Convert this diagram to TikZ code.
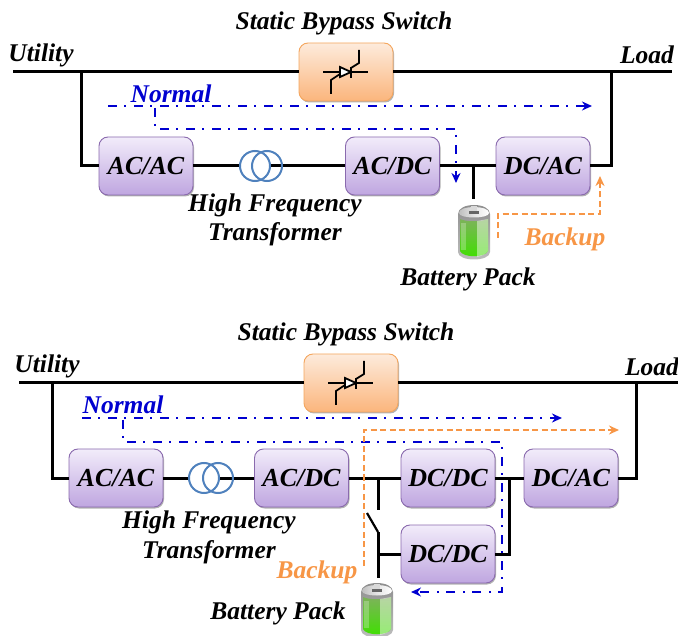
\documentclass[tikz,border=0pt]{standalone}
\usepackage{fontspec}
\setmainfont{Liberation Serif}
\usetikzlibrary{shadows,arrows.meta,positioning}
\definecolor{nblue}{HTML}{0000D0}
\definecolor{borange}{HTML}{F79646}
\definecolor{boxedge}{HTML}{8A6AAE}
\definecolor{boxtop}{HTML}{F2ECFA}
\definecolor{boxbot}{HTML}{BFA6E0}
\definecolor{swedge}{HTML}{F4A65E}
\definecolor{swtop}{HTML}{FDEBDC}
\definecolor{swbot}{HTML}{FBB57C}
\definecolor{coilc}{HTML}{4F81BD}
\definecolor{greentop}{HTML}{7DB35A}
\definecolor{greenbot}{HTML}{3FE000}
\tikzset{
  conv/.style={rounded corners=9pt,minimum width=94pt,minimum height=58pt,inner sep=0pt,draw=boxedge,line width=.9pt,
    top color=boxtop,bottom color=boxbot,drop shadow={shadow xshift=1pt,shadow yshift=-1.5pt,opacity=.3,fill=black},
    font=\fontsize{26}{26}\selectfont\bfseries\itshape},
  swbox/.style={rounded corners=9pt,minimum width=94pt,minimum height=58pt,inner sep=0pt,draw=swedge,line width=.9pt,
    top color=swtop,bottom color=swbot,drop shadow={shadow xshift=1pt,shadow yshift=-1.5pt,opacity=.3,fill=black}},
  wire/.style={line width=3pt,line join=miter},
  coil/.style={draw=coilc,line width=2pt,circle,minimum size=30pt,inner sep=0pt},
  lbl/.style={font=\fontsize{25.5}{25.5}\selectfont\bfseries\itshape,inner sep=0pt,yshift=-1.5pt},
  nlbl/.style={lbl,text=nblue},
  blbl/.style={lbl,text=borange},
  npath/.style={draw=nblue,line width=2.5pt,dash pattern=on 9pt off 7pt on 2pt off 8pt,-{Stealth[length=10pt,width=9pt]}},
  bpath/.style={draw=borange,line width=2.5pt,dash pattern=on 6pt off 3.5pt,-{Stealth[length=10pt,width=9pt]}},
  batslot/.style={minimum width=33pt,minimum height=56pt,inner sep=0pt},
  thyristor/.pic={
    \draw[line width=1.8pt] (-23,0) -- (22,0);
    \draw[line width=1.8pt,fill=white] (-6,-5) -- (5,0) -- (-6,5) -- cycle;
    \draw[line width=1.8pt] (5,-5) -- (5,6);
    \draw[line width=1.8pt] (5,-4) -- (13,-9) -- (13,-22);
    \draw[line width=1.8pt] (-6,2) -- (-15,8) -- (-15,22);
  },
  battery/.pic={
    \shade[top color=black!45,bottom color=black!25] (-16,-18) .. controls (-16,-30) and (16,-30) .. (16,-18) -- (16,20) .. controls (16,30) and (-16,30) .. (-16,20) -- cycle;
    \shade[left color=black!25,right color=white,middle color=black!10] (-15,-19) .. controls (-15,-27) and (15,-27) .. (15,-19) .. controls (15,-13) and (-15,-13) .. (-15,-19) -- cycle;
    \fill[black!60] (-5,-21) rectangle (5,-18);
    \fill[black!15] (-3,-26) rectangle (3,-21);
    \shade[top color=greentop,bottom color=greenbot] (-14,-13) .. controls (-8,-10) and (8,-10) .. (14,-13) -- (14,19) .. controls (11,26) and (-11,26) .. (-14,19) -- cycle;
    \fill[white,opacity=.45] (3,-11) -- (14,-13) -- (14,19) .. controls (12,22) and (8,24) .. (3,25) -- cycle;
    \fill[white,opacity=.25] (-13,-9) rectangle (-8,18);
  }
}
\begin{document}
\begin{tikzpicture}[x=1pt,y=-1pt]
\useasboundingbox (0,0) rectangle (678,636);
% ---------- top diagram
\coordinate (tl) at (13,72);
\coordinate (tr) at (672,72);
\coordinate (tla) at (81.5,72);
\coordinate (trb) at (611,72);
\node[swbox] (ts) at (346,72) {};
\pic at (346,72) {thyristor};
\node[conv] (t1) at (146,166) {AC/AC};
\node[conv] (t2) at (392.5,166) {AC/DC};
\node[conv] (t3) at (543,166) {DC/AC};
\coordinate (tcl) at (255,166);
\coordinate (tcr) at (267,166);
\coordinate (tj) at (473,166);
\node[batslot] (tb) at (474,232) {};
\coordinate (tjb) at (473,199);
\coordinate (tla2) at (81.5,166);
\coordinate (trb2) at (611,166);
\draw[wire] (tl) -- (ts) (ts) -- (tr);
\draw[wire] (tla) -- (tla2) -- (t1);
\draw[wire] (trb) -- (trb2) -- (t3);
\draw[wire] (t1) -- (tcl) (tcr) -- (t2) (t2) -- (t3);
\draw[wire] (tj) -- (tjb);
\node[coil,fill=white] at (tcl) {};
\node[coil] at (tcr) {};
\pic at (tb) {battery};
\node[lbl] (tu) at (41,54) {Utility};
\node[lbl] (tlo) at (647,53) {Load};
\node[lbl] (tst) at (344,22) {Static Bypass Switch};
\node[lbl] (thf) at (275,204) {High Frequency};
\node[lbl] (ttr) at (275,233) {Transformer};
\node[lbl] (tbp) at (468,278) {Battery Pack};
\node[nlbl] (tn) at (171,92) {Normal};
\node[blbl] (tbk) at (565,238) {Backup};
\coordinate (tn1) at (108,106); \coordinate (tn2) at (592,106);
\coordinate (tn3) at (155,108); \coordinate (tn4) at (155,129);
\coordinate (tn5) at (456,129); \coordinate (tn6) at (456,183);
\draw[npath] (tn1) -- (tn2);
\draw[npath] (tn3) -- (tn4) -- (tn5) -- (tn6);
\coordinate (tb1) at (498,238); \coordinate (tb2) at (498,214);
\coordinate (tb3) at (600,214); \coordinate (tb4) at (600,176);
\draw[bpath] (tb1) -- (tb2) -- (tb3) -- (tb4);
% ---------- bottom diagram
\coordinate (bl) at (19,383);
\coordinate (br) at (678,383);
\coordinate (bla) at (52,383);
\coordinate (brb) at (636,383);
\node[swbox] (bs) at (351,383) {};
\pic at (351,383) {thyristor};
\node[conv] (b1) at (116,478) {AC/AC};
\node[conv] (b2) at (301.5,478) {AC/DC};
\node[conv] (b3) at (448,478) {DC/DC};
\node[conv] (b4) at (448,554) {DC/DC};
\node[conv] (b5) at (571,478) {DC/AC};
\coordinate (bcl) at (204,478);
\coordinate (bcr) at (218,478);
\coordinate (bla2) at (52,478);
\coordinate (brb2) at (636,478);
\coordinate (bj) at (378,478);
\coordinate (bjs) at (378,510);
\coordinate (bsw1) at (367,513);
\coordinate (bsw2) at (378,532);
\coordinate (bsw3) at (378,578);
\coordinate (bsw4) at (378,554);
\coordinate (bk) at (509,478);
\coordinate (bk2) at (509,554);
\node[batslot] (bb) at (377,610) {};
\draw[wire] (bl) -- (bs) (bs) -- (br);
\draw[wire] (bla) -- (bla2) -- (b1);
\draw[wire] (brb) -- (brb2) -- (b5);
\draw[wire] (b1) -- (bcl) (bcr) -- (b2) (b2) -- (b3) (b3) -- (b5);
\draw[wire] (bj) -- (bjs);
\draw[wire,line width=2.2pt] (bsw1) -- (bsw2);
\draw[wire] (bsw2) -- (bsw3);
\draw[wire] (bsw4) -- (b4);
\draw[wire] (bk) -- (bk2) -- (b4);
\node[coil,fill=white] at (bcl) {};
\node[coil] at (bcr) {};
\pic at (bb) {battery};
\node[lbl] (bu) at (47,365) {Utility};
\node[lbl] (blo) at (652,365) {Load};
\node[lbl] (bst) at (346,333) {Static Bypass Switch};
\node[lbl] (bhf) at (209,521) {High Frequency};
\node[lbl] (btr) at (209,551) {Transformer};
\node[lbl] (bbp) at (278,612) {Battery Pack};
\node[nlbl] (bn) at (123,403) {Normal};
\node[blbl] (bbk) at (317,571) {Backup};
\coordinate (bn1) at (82,418); \coordinate (bn2) at (562,418);
\coordinate (bn3) at (123,420); \coordinate (bn4) at (123,442);
\coordinate (bn5) at (502,442); \coordinate (bn6) at (502,592);
\coordinate (bn7) at (411,592);
\draw[npath] (bn1) -- (bn2);
\draw[npath] (bn3) -- (bn4) -- (bn5) -- (bn6) -- (bn7);
\coordinate (bb1) at (364,566); \coordinate (bb2) at (364,430);
\coordinate (bb3) at (619,430);
\draw[bpath] (bb1) -- (bb2) -- (bb3);
\end{tikzpicture}
\end{document}
